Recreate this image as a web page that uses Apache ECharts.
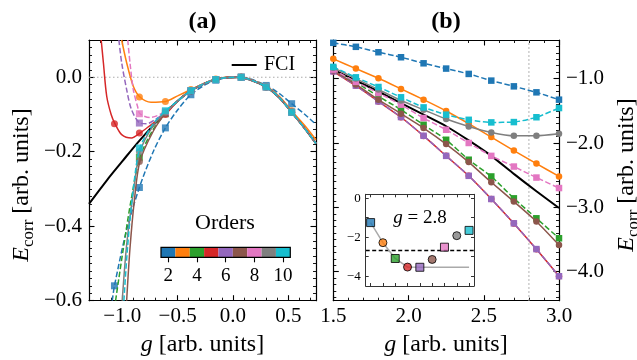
<!DOCTYPE html>
<html><head><meta charset="utf-8">
<script src="https://cdn.jsdelivr.net/npm/echarts@6/dist/echarts.min.js"></script>
<style>html,body{margin:0;padding:0;background:#fff}#c{width:637px;height:360px}</style>
</head><body><div id="c"></div>
<script>
// ================= DATA =================
const orders = [2, 3, 4, 5, 6, 7, 8, 9, 10];

// ---- panel (a): curves as [g, E] readings ----
const gMarkA = [-1.07, -0.845, -0.61, -0.38, -0.155, 0.075, 0.30, 0.53];
const tailA = [[-0.5,-0.064],[-0.38,-0.036],[-0.25,-0.016],[-0.155,-0.006],[-0.05,-0.001],[0.04,0.0],[0.15,-0.006],[0.3,-0.026],[0.42,-0.055],[0.53,-0.094],[0.65,-0.138],[0.75,-0.178]];
const lineA2 = [[-1.09,-0.6],[-1.07,-0.56],[-0.96,-0.41],[-0.845,-0.296],[-0.72,-0.2],[-0.61,-0.136],[-0.5,-0.088],[-0.38,-0.047],[-0.25,-0.02],[-0.155,-0.008],[-0.05,-0.001],[0.04,0.0],[0.15,-0.004],[0.3,-0.022],[0.42,-0.044],[0.53,-0.071],[0.65,-0.1],[0.75,-0.127]];
const lineA3 = [[-1.005,0.1],[-0.96,0.039],[-0.9,-0.024],[-0.84,-0.053],[-0.74,-0.067],[-0.61,-0.065],[-0.5,-0.05],[-0.38,-0.033],[-0.25,-0.015],[-0.155,-0.005],[-0.05,0.0],[0.04,0.0],[0.15,-0.005],[0.3,-0.024],[0.42,-0.052],[0.53,-0.09],[0.65,-0.13],[0.75,-0.168]];
const headA4 = [[-1.06,-0.6],[-0.99,-0.46],[-0.92,-0.33],[-0.84,-0.215],[-0.72,-0.14],[-0.61,-0.098]];
const headA5 = [[-1.19,0.1],[-1.17,0.039],[-1.14,-0.051],[-1.1,-0.1],[-1.065,-0.125],[-1.005,-0.154],[-0.916,-0.163],[-0.84,-0.15],[-0.72,-0.123],[-0.61,-0.1]];
const headA6 = [[-1.03,0.1],[-1.005,0.039],[-0.96,-0.033],[-0.916,-0.087],[-0.84,-0.123],[-0.78,-0.125],[-0.7,-0.113],[-0.61,-0.095]];
const headA7 = [[-0.96,-0.6],[-0.93,-0.46],[-0.89,-0.33],[-0.84,-0.226],[-0.72,-0.145],[-0.61,-0.097]];
const headA8 = [[-0.95,0.1],[-0.93,0.039],[-0.9,-0.033],[-0.862,-0.078],[-0.84,-0.098],[-0.75,-0.108],[-0.61,-0.092]];
const headA9 = [[-1.0,-0.6],[-0.96,-0.45],[-0.9,-0.31],[-0.84,-0.2],[-0.72,-0.13],[-0.61,-0.094]];
const headA10 = [[-0.985,-0.6],[-0.95,-0.45],[-0.9,-0.3],[-0.84,-0.19],[-0.72,-0.125],[-0.61,-0.09]];
const headFciA = [[-1.3,-0.34],[-1.137,-0.276],[-1.0,-0.226],[-0.85,-0.172],[-0.643,-0.105]];
// marker values at gMarkA (null = outside the visible range)
const markA2 = [-0.56,-0.296,-0.136,-0.047,-0.008,0.0,-0.022,-0.071];
const markA3 = [null,-0.053,-0.065,-0.033,-0.005,0.0,-0.024,-0.09];
const markA4 = [null,-0.215,-0.098,-0.036,-0.006,0.0,-0.026,-0.094];
const markA5 = [-0.125,-0.15,-0.1,-0.036,-0.006,0.0,-0.026,-0.094];
const markA6 = [null,-0.123,-0.095,-0.036,-0.006,0.0,-0.026,-0.094];
const markA7 = [null,-0.226,-0.097,-0.036,-0.006,0.0,-0.026,-0.094];
const markA8 = [null,-0.098,-0.092,-0.036,-0.006,0.0,-0.026,-0.094];
const markA9 = [null,-0.2,-0.094,-0.036,-0.006,0.0,-0.026,-0.094];
const markA10 = [null,-0.19,-0.09,-0.036,-0.006,0.0,-0.026,-0.094];

// ---- panel (b) ----
const gB = [1.5, 1.65, 1.8, 1.95, 2.1, 2.25, 2.4, 2.55, 2.7, 2.85, 3.0];
const eB2 = [-0.444,-0.506,-0.59,-0.668,-0.762,-0.844,-0.927,-1.031,-1.12,-1.213,-1.327];
const eB3 = [-0.693,-0.844,-0.995,-1.16,-1.327,-1.503,-1.70,-1.908,-2.117,-2.32,-2.52];
const eB4 = [-0.87,-1.06,-1.275,-1.483,-1.717,-1.95,-2.26,-2.52,-2.86,-3.17,-3.48];
const eB5 = [-0.89,-1.11,-1.355,-1.6,-1.89,-2.2,-2.51,-2.87,-3.25,-3.65,-4.07];
const eB6 = [-0.887,-1.109,-1.353,-1.597,-1.888,-2.2,-2.51,-2.87,-3.248,-3.648,-4.07];
const eB7 = [-0.875,-1.09,-1.327,-1.545,-1.768,-2.017,-2.297,-2.61,-2.91,-3.22,-3.586];
const eB8 = [-0.86,-1.05,-1.223,-1.405,-1.612,-1.794,-2.0,-2.2,-2.366,-2.537,-2.70];
const eB9 = [-0.83,-1.0,-1.17,-1.34,-1.483,-1.628,-1.743,-1.836,-1.888,-1.888,-1.857];
const eB10 = [-0.818,-0.98,-1.13,-1.29,-1.447,-1.56,-1.64,-1.68,-1.675,-1.60,-1.457];
const fciB = [-0.86,-1.03,-1.2,-1.38,-1.56,-1.74,-1.96,-2.20,-2.48,-2.75,-3.01];
const gRef = 2.8;

// ---- inset (g = 2.8) ----
const insetE = [-1.25,-2.28,-3.09,-3.53,-3.54,-3.14,-2.51,-1.92,-1.65];
const insetBest = [-1.25,-2.28,-3.09,-3.53,-3.54,-3.54,-3.54,-3.54,-3.54];
const insetFci = -2.68;

// ---- tick labels ----
const ticksAX = [-1.0, -0.5, 0.0, 0.5];
const ticksAY = [0.0, -0.2, -0.4, -0.6];
const ticksBX = [1.5, 2.0, 2.5, 3.0];
const ticksBY = [-1.0, -2.0, -3.0, -4.0];
const ticksInsetY = [0, -2, -4];
const colorbarLabels = ['2', '4', '6', '8', '10'];

// ================= STYLE / LAYOUT =================
const tab = ['#1f77b4','#ff7f0e','#2ca02c','#d62728','#9467bd','#8c564b','#e377c2','#7f7f7f','#17becf'];
const FF = '"Liberation Serif","Times New Roman",serif';
const linesA = [lineA2, lineA3, headA4.concat(tailA), headA5.concat(tailA), headA6.concat(tailA), headA7.concat(tailA), headA8.concat(tailA), headA9.concat(tailA), headA10.concat(tailA)];
const marksA = [markA2, markA3, markA4, markA5, markA6, markA7, markA8, markA9, markA10];
const linesB = [eB2, eB3, eB4, eB5, eB6, eB7, eB8, eB9, eB10];
const fciA = headFciA.concat(tailA);

function steps(a, b, s) { const n = Math.round((b - a) / s); const o = []; for (let i = 0; i <= n; i++) o.push(+(a + i * s).toFixed(4)); return o; }
const fmt1 = v => (v < 0 ? '\u2212' : '') + Math.abs(v).toFixed(1);
const fmt0 = v => (v < 0 ? '\u2212' : '') + Math.abs(v).toFixed(0);

function axisPair(gi, pos, min, max, majors, minors, label) {
  const base = { type: 'value', gridIndex: gi, position: pos, min: min, max: max, splitLine: { show: false } };
  return [
    Object.assign({}, base, {
      axisLine: { show: true, onZero: false, lineStyle: { color: '#000', width: 1.2 } },
      axisTick: { show: true, inside: true, length: 5.5, customValues: majors, lineStyle: { color: '#000', width: 1.1 } },
      axisLabel: label ? Object.assign({ show: true, customValues: label.values, formatter: fmt1, fontFamily: FF, fontSize: 21, color: '#000' }, label.opts) : { show: false }
    }),
    Object.assign({}, base, {
      axisLine: { show: false, onZero: false },
      axisTick: { show: true, inside: true, length: 3, customValues: minors, lineStyle: { color: '#000', width: 0.9 } },
      axisLabel: { show: false }
    })
  ];
}

const GA = { left: 89, top: 40, width: 227, height: 260.7 };
const GB = { left: 333.3, top: 40, width: 225.7, height: 260.7 };
const GI = { left: 365.7, top: 194.3, width: 108.3, height: 91.7 };
const GC = { left: 161, top: 247.3, width: 129.3, height: 10 };

const xAxes = [].concat(
  axisPair(0, 'bottom', -1.3, 0.75, ticksAX, steps(-1.3, 0.7, 0.1), { values: ticksAX, opts: { margin: 5 } }),
  axisPair(0, 'top', -1.3, 0.75, ticksAX, steps(-1.3, 0.7, 0.1), null),
  axisPair(1, 'bottom', 1.5, 3.0, ticksBX, steps(1.5, 3.0, 0.1), { values: ticksBX, opts: { margin: 5 } }),
  axisPair(1, 'top', 1.5, 3.0, ticksBX, steps(1.5, 3.0, 0.1), null),
  [
    { type: 'value', gridIndex: 2, position: 'bottom', min: 1.6, max: 10.4, z: 12, splitLine: { show: false },
      axisLine: { onZero: false, lineStyle: { color: '#333', width: 1 } },
      axisTick: { inside: true, length: 3, customValues: orders, lineStyle: { color: '#333' } }, axisLabel: { show: false } },
    { type: 'value', gridIndex: 2, position: 'top', min: 1.6, max: 10.4, z: 12, splitLine: { show: false },
      axisLine: { onZero: false, lineStyle: { color: '#333', width: 1 } },
      axisTick: { inside: true, length: 3, customValues: orders, lineStyle: { color: '#333' } }, axisLabel: { show: false } },
    { type: 'category', gridIndex: 3, position: 'bottom', data: orders.map(String), boundaryGap: true,
      axisLine: { show: false }, splitLine: { show: false },
      axisTick: { show: true, inside: false, length: 5, alignWithLabel: true, interval: i => i % 2 === 0, lineStyle: { color: '#000', width: 1.1 } },
      axisLabel: { show: true, interval: i => i % 2 === 0, formatter: v => (colorbarLabels.indexOf(v) >= 0 ? v : ''), fontFamily: FF, fontSize: 19, color: '#000', margin: 9 } }
  ]
);
const yAxes = [].concat(
  axisPair(0, 'left', -0.6, 0.1, ticksAY, steps(-0.6, 0.1, 0.02), { values: ticksAY, opts: { margin: 7 } }),
  axisPair(0, 'right', -0.6, 0.1, ticksAY, steps(-0.6, 0.1, 0.02), null),
  axisPair(1, 'right', -4.45, -0.4, ticksBY, steps(-4.4, -0.4, 0.1), { values: ticksBY, opts: { margin: 7 } }),
  axisPair(1, 'left', -4.45, -0.4, ticksBY, steps(-4.4, -0.4, 0.1), null),
  [
    { type: 'value', gridIndex: 2, position: 'left', min: -4.5, max: 0.2, z: 12, splitLine: { show: false },
      axisLine: { onZero: false, lineStyle: { color: '#333', width: 1 } },
      axisTick: { inside: true, length: 3, customValues: [0, -1, -2, -3, -4], lineStyle: { color: '#333' } },
      axisLabel: { show: true, customValues: ticksInsetY, formatter: fmt0, fontFamily: FF, fontSize: 13, color: '#000', margin: 5 } },
    { type: 'value', gridIndex: 2, position: 'right', min: -4.5, max: 0.2, z: 12, splitLine: { show: false },
      axisLine: { onZero: false, lineStyle: { color: '#333', width: 1 } },
      axisTick: { inside: true, length: 3, customValues: [0, -1, -2, -3, -4], lineStyle: { color: '#333' } }, axisLabel: { show: false } },
    { type: 'value', gridIndex: 3, min: 0, max: 1, show: false }
  ]
);

const series = [];
// reference lines
series.push({ type: 'line', xAxisIndex: 0, yAxisIndex: 0, data: [[-1.3, 0], [0.75, 0]], symbol: 'none', z: 1, silent: true,
  lineStyle: { color: '#aaa', width: 1, type: [1.5, 2.5] } });
series.push({ type: 'line', xAxisIndex: 4, yAxisIndex: 4, data: [[gRef, -4.45], [gRef, -0.4]], symbol: 'none', z: 1, silent: true,
  lineStyle: { color: '#aaa', width: 1.2, type: [1.5, 2.5] } });
// FCI
series.push({ type: 'line', xAxisIndex: 0, yAxisIndex: 0, data: fciA, smooth: 0.3, symbol: 'none', z: 2,
  lineStyle: { color: '#000', width: 2 } });
series.push({ type: 'line', xAxisIndex: 4, yAxisIndex: 4, data: gB.map((g, i) => [g, fciB[i]]), smooth: 0.2, symbol: 'none', z: 2,
  lineStyle: { color: '#000', width: 2 } });

orders.forEach((o, i) => {
  const even = o % 2 === 0;
  const ls = { color: tab[i], width: 1.5, type: even ? [5.5, 2.5] : 'solid' };
  const sym = even ? 'rect' : 'circle';
  series.push({ type: 'line', xAxisIndex: 0, yAxisIndex: 0, data: linesA[i], smooth: 0.3, symbol: 'none', z: 3 + i, lineStyle: ls });
  series.push({ type: 'scatter', xAxisIndex: 0, yAxisIndex: 0, z: 3 + i, symbol: sym, symbolSize: 7, itemStyle: { color: tab[i] },
    data: gMarkA.map((g, j) => [g, marksA[i][j]]).filter(p => p[1] !== null) });
  series.push({ type: 'line', xAxisIndex: 4, yAxisIndex: 4, data: gB.map((g, j) => [g, linesB[i][j]]), smooth: 0.2, z: 3 + i,
    symbol: sym, symbolSize: 6.5, showSymbol: true, itemStyle: { color: tab[i] }, lineStyle: ls });
});

// inset
series.push({ type: 'line', xAxisIndex: 8, yAxisIndex: 8, data: [[1.6, insetFci], [10.4, insetFci]], symbol: 'none', z: 11,
  lineStyle: { color: '#000', width: 1.3, type: [4, 2.5] } });
series.push({ type: 'line', xAxisIndex: 8, yAxisIndex: 8, data: orders.map((o, i) => [o, insetBest[i]]), symbol: 'none', z: 11,
  lineStyle: { color: '#aaa', width: 1.5 } });
series.push({ type: 'scatter', xAxisIndex: 8, yAxisIndex: 8, z: 13, symbolSize: 8,
  data: orders.map((o, i) => ({ value: [o, insetE[i]], symbol: o % 2 === 0 ? 'rect' : 'circle',
    itemStyle: { color: tab[i], borderColor: '#000', borderWidth: 1 } })) });
// colour bar (legend of orders)
series.push({ type: 'bar', xAxisIndex: 10, yAxisIndex: 10, barCategoryGap: '0%', z: 4, silent: true,
  data: orders.map((o, i) => ({ value: 1, itemStyle: { color: tab[i] } })) });

const graphic = [
  { type: 'text', x: 202.5, y: 22, style: { text: '(a)', font: 'bold 24px ' + FF, textAlign: 'center', textVerticalAlign: 'middle', fill: '#000' } },
  { type: 'text', x: 446, y: 22, style: { text: '(b)', font: 'bold 24px ' + FF, textAlign: 'center', textVerticalAlign: 'middle', fill: '#000' } },
  { type: 'text', x: 202.5, y: 345, style: { text: '{i|g} [arb. units]', font: '24px ' + FF, fill: '#000', textAlign: 'center', textVerticalAlign: 'middle',
      rich: { i: { fontStyle: 'italic', fontFamily: FF, fontSize: 24 } } } },
  { type: 'text', x: 446, y: 345, style: { text: '{i|g} [arb. units]', font: '24px ' + FF, fill: '#000', textAlign: 'center', textVerticalAlign: 'middle',
      rich: { i: { fontStyle: 'italic', fontFamily: FF, fontSize: 24 } } } },
  { type: 'text', x: 22, y: 185, rotation: Math.PI / 2, style: { text: '{e|E}{s|corr}{n| [arb. units]}', fill: '#000', textAlign: 'center', textVerticalAlign: 'middle',
      rich: { e: { fontStyle: 'italic', fontFamily: FF, fontSize: 24, lineHeight: 30, verticalAlign: 'middle' },
              s: { fontFamily: FF, fontSize: 17, lineHeight: 17, verticalAlign: 'bottom' },
              n: { fontFamily: FF, fontSize: 24, lineHeight: 30, verticalAlign: 'middle' } } } },
  { type: 'text', x: 627, y: 175, rotation: Math.PI / 2, style: { text: '{e|E}{s|corr}{n| [arb. units]}', fill: '#000', textAlign: 'center', textVerticalAlign: 'middle',
      rich: { e: { fontStyle: 'italic', fontFamily: FF, fontSize: 24, lineHeight: 30, verticalAlign: 'middle' },
              s: { fontFamily: FF, fontSize: 17, lineHeight: 17, verticalAlign: 'bottom' },
              n: { fontFamily: FF, fontSize: 24, lineHeight: 30, verticalAlign: 'middle' } } } },
  { type: 'line', shape: { x1: 231.7, y1: 65, x2: 256.7, y2: 65 }, style: { stroke: '#000', lineWidth: 2 }, z: 20 },
  { type: 'text', x: 264, y: 65, style: { text: 'FCI', font: '20px ' + FF, fill: '#000', textAlign: 'left', textVerticalAlign: 'middle' }, z: 20 },
  { type: 'text', x: 225, y: 223.5, style: { text: 'Orders', font: '22px ' + FF, fill: '#000', textAlign: 'center', textVerticalAlign: 'middle' }, z: 20 },
  { type: 'text', x: 420, y: 218, style: { text: '{i|g} = 2.8', font: '19px ' + FF, fill: '#000', textAlign: 'center', textVerticalAlign: 'middle',
      rich: { i: { fontStyle: 'italic', fontFamily: FF, fontSize: 19 } } }, z: 30, zlevel: 0 }
];

const chart = echarts.init(document.getElementById('c'), null, { renderer: 'canvas' });
chart.setOption({
  animation: false,
  backgroundColor: '#fff',
  grid: [
    Object.assign({ show: false }, GA),
    Object.assign({ show: false }, GB),
    Object.assign({ show: true, backgroundColor: '#fff', borderWidth: 0, z: 10 }, GI),
    Object.assign({ show: true, backgroundColor: 'transparent', borderColor: '#000', borderWidth: 1.2, z: 6 }, GC)
  ],
  xAxis: xAxes,
  yAxis: yAxes,
  series: series,
  graphic: graphic
});
</script>
</body></html>
